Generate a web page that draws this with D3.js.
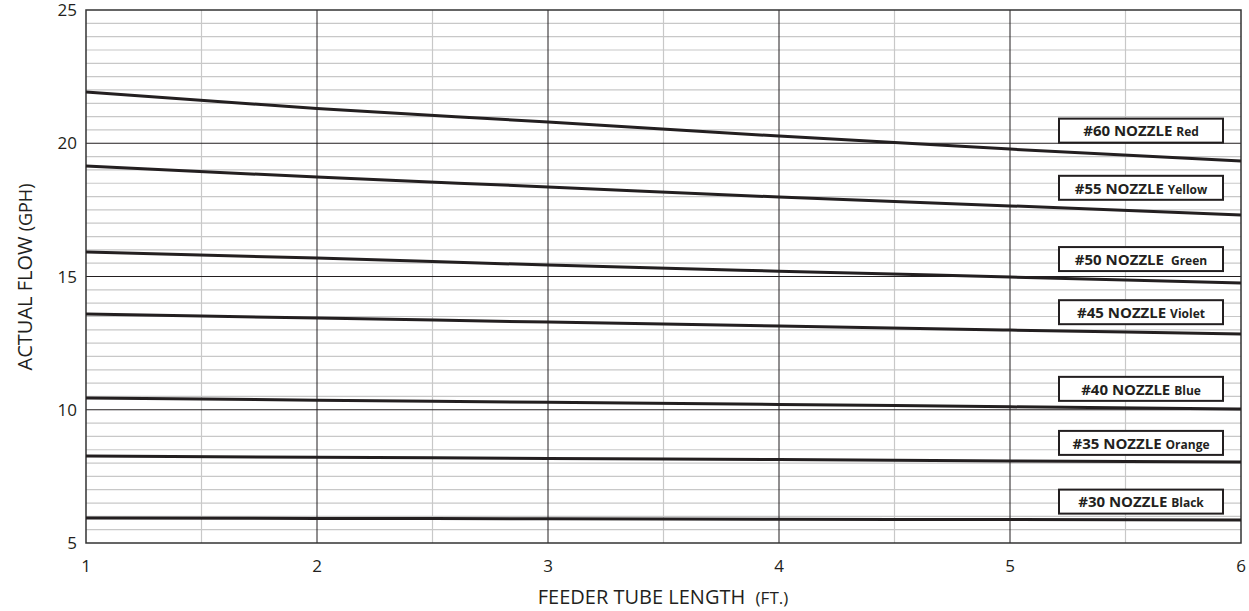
<!DOCTYPE html>
<html>
<head>
<meta charset="utf-8">
<script src="https://cdn.jsdelivr.net/npm/d3@7"></script>
<style>
  body { margin: 0; background: #fff; }
  text { font-family: "Open Sans", "Noto Sans", sans-serif; }
</style>
</head>
<body>
<svg id="chart" width="1249" height="611"></svg>
<script>
var lengths = [1, 2, 3, 4, 5, 6];
var nozzles = ["#60 NOZZLE", "#55 NOZZLE", "#50 NOZZLE", "#45 NOZZLE", "#40 NOZZLE", "#35 NOZZLE", "#30 NOZZLE"];
var colorNames = ["Red", "Yellow", " Green", "Violet", "Blue", "Orange", "Black"];
var flow60 = [21.92, 21.3, 20.8, 20.27, 19.78, 19.33];
var flow55 = [19.15, 18.73, 18.36, 17.98, 17.65, 17.31];
var flow50 = [15.92, 15.69, 15.43, 15.2, 14.98, 14.76];
var flow45 = [13.59, 13.44, 13.29, 13.14, 12.99, 12.84];
var flow40 = [10.44, 10.36, 10.28, 10.2, 10.11, 10.03];
var flow35 = [8.26, 8.22, 8.17, 8.13, 8.08, 8.04];
var flow30 = [5.94, 5.92, 5.91, 5.89, 5.88, 5.86];
var series = [flow60, flow55, flow50, flow45, flow40, flow35, flow30];
var xTicks = [1, 2, 3, 4, 5, 6];
var yTicks = [5, 10, 15, 20, 25];

var pLeft = 86, pRight = 1241, pTop = 10, pBottom = 543;
var x = d3.scaleLinear().domain([1, 6]).range([pLeft, pRight]);
var y = d3.scaleLinear().domain([5, 25]).range([pBottom, pTop]);
var svg = d3.select("#chart");

// minor grid
svg.append("g").selectAll("line")
  .data(d3.range(5.5, 25, 0.5).filter(function(v){ return v % 5 !== 0; }))
  .enter().append("line")
  .attr("x1", pLeft).attr("x2", pRight)
  .attr("y1", function(d){ return y(d); }).attr("y2", function(d){ return y(d); })
  .style("stroke", "#c8c8c8").style("stroke-width", 1.2);
svg.append("g").selectAll("line")
  .data([1.5, 2.5, 3.5, 4.5, 5.5])
  .enter().append("line")
  .attr("y1", pTop).attr("y2", pBottom)
  .attr("x1", function(d){ return x(d); }).attr("x2", function(d){ return x(d); })
  .style("stroke", "#c8c8c8").style("stroke-width", 1.2);

// major grid
svg.append("g").selectAll("line")
  .data([10, 15, 20])
  .enter().append("line")
  .attr("x1", pLeft).attr("x2", pRight)
  .attr("y1", function(d){ return y(d); }).attr("y2", function(d){ return y(d); })
  .style("stroke", "#231f20").style("stroke-width", 1);
svg.append("g").selectAll("line")
  .data([2, 3, 4, 5])
  .enter().append("line")
  .attr("y1", pTop).attr("y2", pBottom)
  .attr("x1", function(d){ return x(d); }).attr("x2", function(d){ return x(d); })
  .style("stroke", "#231f20").style("stroke-width", 1);

svg.append("rect")
  .attr("x", pLeft).attr("y", pTop)
  .attr("width", pRight - pLeft).attr("height", pBottom - pTop)
  .style("fill", "none").style("stroke", "#333").style("stroke-width", 1.5);

// flow lines
var line = d3.line()
  .x(function(d, i){ return x(lengths[i]); })
  .y(function(d){ return y(d); })
  .curve(d3.curveMonotoneX);
svg.append("g").selectAll("path")
  .data(series)
  .enter().append("path")
  .attr("d", line)
  .style("fill", "none").style("stroke", "#231f20").style("stroke-width", 3);

// tick labels
svg.append("g").selectAll("text")
  .data(yTicks)
  .enter().append("text")
  .attr("x", 77).attr("y", function(d){ return y(d); })
  .attr("dy", "0.36em")
  .attr("text-anchor", "end")
  .style("font-size", "17px").style("fill", "#231f20")
  .text(function(d){ return d; });
svg.append("g").selectAll("text")
  .data(xTicks)
  .enter().append("text")
  .attr("x", function(d){ return x(d); }).attr("y", 572)
  .attr("text-anchor", "middle")
  .style("font-size", "17px").style("fill", "#231f20")
  .text(function(d){ return d; });

// axis titles
var xt = svg.append("text")
  .attr("x", 663).attr("y", 604)
  .attr("text-anchor", "middle")
  .attr("xml:space", "preserve")
  .style("font-size", "20px").style("fill", "#231f20");
xt.append("tspan").text("FEEDER TUBE LENGTH  ");
xt.append("tspan").style("font-size", "17px").text("(FT.)");

var yt = svg.append("text")
  .attr("transform", "translate(32,277) rotate(-90)")
  .attr("text-anchor", "middle")
  .style("font-size", "20px").style("fill", "#231f20");
yt.append("tspan").text("ACTUAL FLOW ");
yt.append("tspan").style("font-size", "18px").text("(GPH)");

// nozzle labels
var lab = svg.append("g").selectAll("g")
  .data(series)
  .enter().append("g")
  .attr("transform", function(d){
    var cy = y((d[4] + d[5]) / 2) - 18 - (d[0] - d[5]) * 2.5;
    return "translate(1141," + cy + ")";
  });
lab.append("rect")
  .attr("x", -82).attr("y", -12)
  .attr("width", 164).attr("height", 24)
  .style("fill", "#fff").style("stroke", "#231f20").style("stroke-width", 2);
var lt = lab.append("text")
  .attr("text-anchor", "middle").attr("dy", "0.36em")
  .style("font-weight", "bold").style("fill", "#231f20")
  .attr("xml:space", "preserve");
lt.append("tspan").style("font-size", "15px").text(function(d, i){ return nozzles[i] + " "; });
lt.append("tspan").style("font-size", "12px").text(function(d, i){ return colorNames[i]; });
</script>
</body>
</html>
